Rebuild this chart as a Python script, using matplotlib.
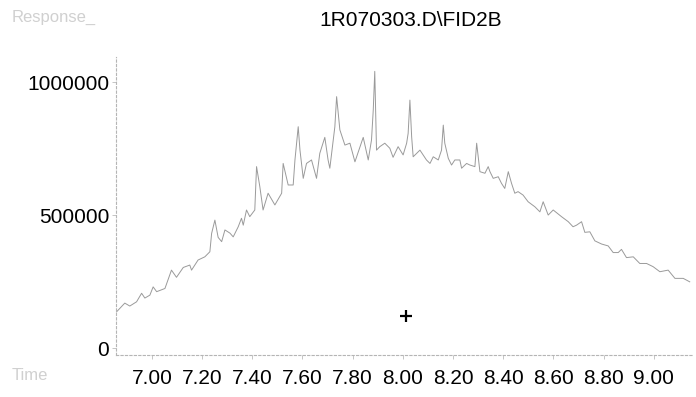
import matplotlib
matplotlib.use("Agg")
import matplotlib.pyplot as plt

plt.rcParams['font.family'] = ['Liberation Sans', 'DejaVu Sans']

# retention time (min) and detector response
rt = [6.859, 6.892, 6.912, 6.939, 6.959, 6.972, 6.992, 7.005, 7.019, 7.052,
      7.078, 7.098, 7.125, 7.151, 7.158, 7.184, 7.211, 7.231, 7.238, 7.251,
      7.264, 7.278, 7.291, 7.311, 7.324, 7.344, 7.357, 7.364, 7.377, 7.390,
      7.410, 7.417, 7.430, 7.443, 7.463, 7.490, 7.517, 7.523, 7.543, 7.563,
      7.570, 7.583, 7.590, 7.603, 7.616, 7.636, 7.656, 7.669, 7.689, 7.702,
      7.709, 7.729, 7.736, 7.749, 7.769, 7.789, 7.809, 7.822, 7.842, 7.862,
      7.875, 7.882, 7.888, 7.895, 7.908, 7.928, 7.948, 7.961, 7.981, 8.001,
      8.015, 8.021, 8.028, 8.035, 8.041, 8.068, 8.094, 8.108, 8.121, 8.141,
      8.154, 8.161, 8.167, 8.181, 8.194, 8.207, 8.227, 8.234, 8.254, 8.267,
      8.287, 8.294, 8.300, 8.307, 8.327, 8.340, 8.347, 8.360, 8.380, 8.393,
      8.406, 8.420, 8.433, 8.446, 8.459, 8.479, 8.499, 8.526, 8.546, 8.559,
      8.579, 8.599, 8.632, 8.659, 8.678, 8.692, 8.712, 8.725, 8.745, 8.765,
      8.792, 8.818, 8.838, 8.858, 8.871, 8.891, 8.918, 8.944, 8.971, 8.997,
      9.024, 9.057, 9.084, 9.117, 9.143]
resp = [136, 169, 158, 174, 206, 188, 199, 230, 212, 224,
        293, 266, 303, 312, 293, 331, 343, 362, 431, 481,
        416, 400, 444, 432, 418, 456, 488, 462, 519, 494,
        519, 682, 607, 519, 582, 538, 582, 694, 613, 613,
        707, 832, 744, 638, 694, 707, 638, 732, 792, 707,
        676, 832, 945, 820, 763, 770, 700, 736, 792, 707,
        782, 895, 1040, 744, 757, 770, 751, 717, 757, 726,
        770, 807, 932, 794, 719, 744, 707, 694, 719, 707,
        744, 838, 770, 713, 688, 707, 707, 676, 694, 688,
        682, 770, 719, 663, 657, 682, 663, 638, 644, 619,
        600, 663, 619, 582, 588, 575, 550, 531, 512, 550,
        500, 519, 494, 475, 456, 462, 475, 435, 437, 403,
        391, 384, 359, 359, 371, 340, 343, 318, 318, 306,
        287, 293, 262, 262, 249]
resp = [r * 1000 for r in resp]

marker_rt = [8.012]
marker_resp = [120000]

xticks = [7.00, 7.20, 7.40, 7.60, 7.80, 8.00, 8.20, 8.40, 8.60, 8.80, 9.00]
yticks = [0, 500000, 1000000]

fig = plt.figure(figsize=(6.96, 3.97), dpi=100)
ax = fig.add_axes([116 / 696, 42 / 397, 576 / 696, 298 / 397])

ax.plot(rt, resp, color='#9a9a9a', lw=0.7)
ax.plot(marker_rt, marker_resp, marker='+', color='black', ms=8, mew=1.6, ls='none')

ax.set_xlim(6.857, 9.152)
ax.set_ylim(-26000, 1094000)

ax.set_xticks(xticks)
ax.set_xticklabels(['%.2f' % t for t in xticks])
ax.set_yticks(yticks)
ax.set_yticklabels(['%d' % v for v in yticks])
ax.tick_params(axis='both', labelsize=15, colors='#bbbbbb', labelcolor='black',
               length=3, width=0.6, pad=2)
ax.tick_params(axis='x', pad=7)

for s in ['top', 'right']:
    ax.spines[s].set_visible(False)
for s in ['left', 'bottom']:
    ax.spines[s].set_color('#b5b5b5')
    ax.spines[s].set_linewidth(0.8)
    ax.spines[s].set_linestyle((0, (2, 2)))

fig.text(411 / 696, 1 - 21 / 397, '1R070303.D\\FID2B', ha='center', va='center',
         fontsize=15)
fig.text(12 / 696, 1 - 17 / 397, 'Response_', ha='left', va='center',
         fontsize=12, color='#d0d0d0')
fig.text(12 / 696, 1 - 375 / 397, 'Time', ha='left', va='center',
         fontsize=12, color='#d0d0d0')

fig.savefig('out.png', dpi=100)
